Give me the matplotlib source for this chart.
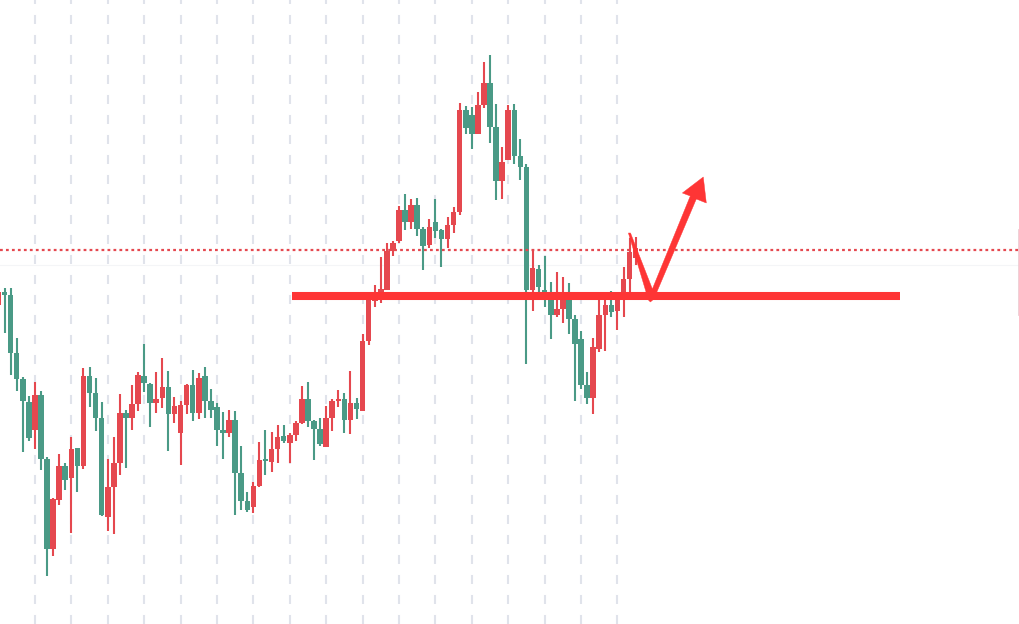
import matplotlib
matplotlib.use("Agg")
import matplotlib.pyplot as plt
import numpy as np

# OHLC values (arbitrary price units), red = rising candle, green = falling candle
opens = [69.5, 70.8, 70.5, 64.7, 62.1, 59.8, 57.0, 60.5, 54.1, 45.1,
         50.0, 53.4, 52.2, 55.2, 53.4, 62.4, 60.7, 58.2, 48.3, 51.3,
         53.7, 58.7, 58.2, 59.6, 62.4, 61.6, 59.7, 60.2, 61.3, 58.6,
         56.7, 59.5, 61.5, 58.7, 62.4, 59.9, 59.3, 57.0, 56.7, 58.0,
         52.7, 49.9, 49.3, 51.4, 54.0, 53.8, 55.1, 56.4, 55.7, 56.5,
         57.7, 60.1, 57.9, 57.1, 55.3, 58.2, 59.9, 60.1, 58.0, 59.7,
         58.9, 65.9, 69.9, 70.7, 71.0, 74.9, 75.9, 79.0, 77.8, 79.5,
         77.1, 75.5, 77.8, 77.0, 76.1, 77.5, 78.8, 89.0, 88.5, 86.6,
         89.5, 91.7, 87.3, 81.9, 84.0, 89.0, 84.4, 83.3, 71.0, 73.1,
         71.0, 70.8, 68.5, 69.1, 70.2, 68.1, 66.1, 61.5, 60.2, 65.1,
         68.5, 69.5, 68.9, 70.0, 72.1, 74.2]
highs = [71.0, 71.2, 71.2, 66.2, 62.3, 60.4, 61.8, 60.9, 54.3, 50.2,
         54.6, 53.7, 56.3, 55.2, 63.2, 63.3, 62.2, 59.8, 54.1, 56.3,
         60.6, 59.0, 61.5, 62.8, 65.6, 61.7, 62.8, 64.2, 62.9, 60.3,
         59.9, 61.6, 63.0, 62.7, 63.3, 61.1, 59.7, 58.8, 59.0, 58.9,
         55.4, 50.8, 51.8, 55.8, 57.0, 56.8, 57.5, 57.5, 56.7, 57.9,
         61.4, 61.8, 58.0, 58.2, 59.4, 60.1, 61.0, 60.7, 62.9, 60.2,
         66.6, 70.4, 71.5, 74.3, 75.7, 75.9, 79.4, 80.6, 80.1, 80.2,
         77.3, 78.1, 80.1, 77.1, 78.3, 79.3, 89.7, 89.4, 89.3, 90.8,
         93.8, 94.5, 89.6, 85.3, 89.5, 89.6, 86.1, 83.6, 75.1, 73.5,
         74.4, 71.8, 72.8, 72.3, 71.7, 68.5, 66.9, 62.8, 66.2, 70.8,
         70.8, 70.9, 70.4, 73.3, 76.2, 76.3]
lows = [69.4, 66.7, 62.5, 60.9, 54.8, 55.9, 55.1, 53.0, 42.4, 44.4,
        49.5, 51.0, 46.7, 50.8, 53.1, 59.3, 56.9, 48.4, 46.9, 46.6,
        52.5, 53.2, 57.0, 58.9, 60.8, 57.3, 58.7, 59.2, 54.9, 57.7,
        53.5, 58.6, 57.9, 58.1, 58.2, 58.2, 55.4, 54.1, 56.3, 48.5,
        49.0, 48.8, 48.7, 51.3, 52.5, 52.8, 53.7, 55.7, 53.7, 55.9,
        57.6, 57.3, 54.0, 55.4, 55.3, 56.9, 59.3, 56.7, 56.6, 58.1,
        58.9, 65.5, 69.3, 69.7, 71.0, 74.4, 75.7, 77.0, 77.1, 76.4,
        73.0, 75.2, 76.2, 73.3, 75.2, 76.7, 78.5, 86.6, 85.1, 86.6,
        89.2, 85.7, 80.0, 80.1, 84.0, 83.6, 82.0, 63.6, 68.9, 70.6,
        69.3, 66.1, 68.3, 67.7, 66.6, 59.9, 61.1, 59.6, 58.6, 64.8,
        64.9, 68.3, 67.0, 68.3, 70.7, 73.5]
closes = [70.8, 70.5, 64.7, 62.1, 59.9, 56.2, 60.5, 54.1, 45.1, 50.1,
          53.4, 52.0, 55.1, 53.4, 62.4, 60.7, 58.2, 48.5, 51.3, 53.7,
          58.7, 58.2, 59.6, 62.5, 61.7, 59.7, 60.1, 61.3, 58.6, 59.4,
          59.5, 61.5, 58.7, 62.2, 59.9, 59.0, 57.0, 56.7, 58.0, 52.7,
          49.9, 49.0, 51.4, 54.0, 53.9, 55.1, 56.3, 55.9, 56.5, 57.7,
          60.1, 57.9, 57.1, 55.6, 58.2, 59.9, 60.1, 58.0, 59.7, 59.1,
          65.9, 70.0, 70.7, 71.1, 74.9, 75.7, 79.0, 77.8, 79.5, 77.1,
          75.4, 77.3, 76.9, 76.1, 77.5, 78.8, 89.0, 87.2, 86.6, 89.5,
          91.7, 87.3, 81.9, 83.8, 89.0, 84.4, 83.3, 71.0, 73.2, 71.3,
          70.8, 68.5, 69.1, 70.2, 68.1, 65.6, 61.5, 60.2, 65.3, 68.5,
          69.5, 68.8, 70.0, 72.1, 74.8, 75.2]

last_price = 75.0        # dotted red price line
support_level = 70.35    # thick hand-drawn red line
support_span = (48.3, 148.6)
# hand-drawn "dip then rise" arrow, (bar index, price)
arrow_x = [103.8, 107.1, 107.42, 108.0, 114.99, 116.64, 116.14, 112.69, 114.0, 107.75, 104.15]
arrow_y = [76.7, 70.0, 69.8, 70.1, 80.1, 79.7, 82.3, 80.7, 80.4, 71.1, 76.7]

UP = "#e5484f"
DOWN = "#4a9a86"
MARK = "#fe3535"

plt.rcParams["lines.scale_dashes"] = False

fig = plt.figure(figsize=(10.2, 6.24), dpi=100)
ax = fig.add_axes([0, 0, 1, 1])

x = np.arange(len(opens))
o = np.array(opens)
c = np.array(closes)
colors = [UP if cc >= oo else DOWN for oo, cc in zip(o, c)]

bottom = np.minimum(o, c)
height = np.maximum(np.abs(c - o), 0.15)

ax.vlines(x, lows, highs, colors=colors, linewidth=1.5, zorder=2)
ax.bar(x, height, bottom=bottom, width=0.92, color=colors, linewidth=0, zorder=3)

# vertical time grid, every 6 bars
ax.set_xticks(np.arange(6, 103, 6))
ax.grid(axis="x", color="#e0e3eb", linewidth=1.5, linestyle=(0, (6.5, 7.9)), zorder=0)
ax.axhline(73.5, color="#f4f5f7", linewidth=0.8, zorder=0)

ax.axhline(last_price, color=UP, linewidth=1.6, linestyle=(0, (2.0, 2.3)), zorder=4)

ax.plot(support_span, [support_level, support_level], color=MARK, linewidth=5.8,
        solid_capstyle="butt", zorder=5)
ax.fill(arrow_x, arrow_y, color=MARK, linewidth=0.3, zorder=6)

# faint marker at the right edge
ax.plot([0.999, 0.999], [0.495, 0.631], transform=ax.transAxes, color="#ecc8cf",
        linewidth=1.2, zorder=1)

ax.set_xlim(0.25, 168.33)
ax.set_ylim(37.6, 100)
ax.tick_params(length=0, labelbottom=False, labelleft=False)
for s in ax.spines.values():
    s.set_visible(False)

fig.savefig("out.png", dpi=100, facecolor="white")
